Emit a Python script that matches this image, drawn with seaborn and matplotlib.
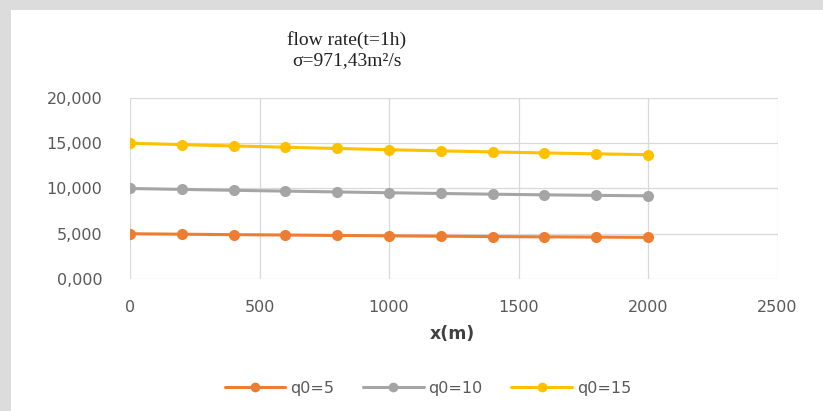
import matplotlib
matplotlib.use("Agg")
import matplotlib.pyplot as plt
from matplotlib.patches import Rectangle
from matplotlib.ticker import FuncFormatter
import numpy as np
import pandas as pd
import seaborn as sns

# Distance along the channel (m)
x_m = [0, 200, 400, 600, 800, 1000, 1200, 1400, 1600, 1800, 2000]

# Flow rate at t = 1 h for each inflow q0
q0_5 = [5.00, 4.95, 4.90, 4.86, 4.81, 4.77, 4.73, 4.69, 4.66, 4.63, 4.60]
q0_10 = [10.00, 9.90, 9.80, 9.71, 9.62, 9.53, 9.45, 9.37, 9.30, 9.24, 9.19]
q0_15 = [15.00, 14.85, 14.70, 14.56, 14.42, 14.29, 14.16, 14.04, 13.93, 13.83, 13.74]

series_names = ["q0=5", "q0=10", "q0=15"]
series_values = [q0_5, q0_10, q0_15]
colors = ["#ED7D31", "#A5A5A5", "#FFC000"]

x_ticks = [0, 500, 1000, 1500, 2000, 2500]
y_ticks = [0, 5, 10, 15, 20]

df = pd.DataFrame(
    [(x, v, name) for name, vals in zip(series_names, series_values) for x, v in zip(x_m, vals)],
    columns=["x", "q", "series"],
)

sns.set_style("white")
plt.rcParams["font.family"] = ["DejaVu Sans"]

fig = plt.figure(figsize=(8.23, 4.11), dpi=100, facecolor="#dcdcdc")
# white chart panel behind everything
fig.patches.append(Rectangle((11 / 823, 0), 1 - 11 / 823, 1 - 10 / 411,
                             transform=fig.transFigure, facecolor="white",
                             edgecolor="none", zorder=-5))

ax = fig.add_axes([130 / 823, 1 - 279 / 411, (777.5 - 130) / 823, (279 - 98) / 411])
ax.set_zorder(2)
ax.set_facecolor("white")

sns.lineplot(data=df, x="x", y="q", hue="series", palette=colors,
             marker="o", markersize=8, markeredgewidth=0, linewidth=2.2,
             ax=ax, legend=False, zorder=3)

ax.set_xlim(0, 2500)
ax.set_ylim(0, 20)
ax.set_xticks(x_ticks)
ax.set_yticks(y_ticks)
ax.yaxis.set_major_formatter(FuncFormatter(lambda v, p: f"{v:.3f}".replace(".", ",")))
ax.xaxis.set_major_formatter(FuncFormatter(lambda v, p: f"{int(v)}"))
ax.grid(True, color="#d9d9d9", linewidth=0.9)
for s in ax.spines.values():
    s.set_visible(False)
ax.tick_params(axis="both", length=0, labelsize=11.5, labelcolor="#595959")
ax.tick_params(axis="y", pad=20)
ax.tick_params(axis="x", pad=15)
ax.set_xlabel("")
ax.set_ylabel("")

fig.text(452 / 823, 1 - 334 / 411, "x(m)", ha="center", va="center",
         fontsize=12.5, fontweight="bold", color="#404040")

fig.text(347 / 823, 1 - 40 / 411, "flow rate(t=1h)", ha="center", va="center",
         fontsize=14, family="Liberation Serif", color="#222222")
fig.text(347 / 823, 1 - 61 / 411, "\u03c3=971,43m\u00b2/s", ha="center", va="center",
         fontsize=14, family="Liberation Serif", color="#222222")

handles = [plt.Line2D([], [], color=c, marker="o", markersize=7, markeredgewidth=0,
                      linewidth=2.2) for c in colors]
fig.legend(handles, series_names, loc="center", bbox_to_anchor=(428 / 823, 1 - 388 / 411),
           ncol=3, frameon=False, fontsize=11.5, handlelength=3.8, columnspacing=1.8,
           handletextpad=0.3, labelcolor="#595959")

fig.savefig("out.png", dpi=100, facecolor=fig.get_facecolor())
